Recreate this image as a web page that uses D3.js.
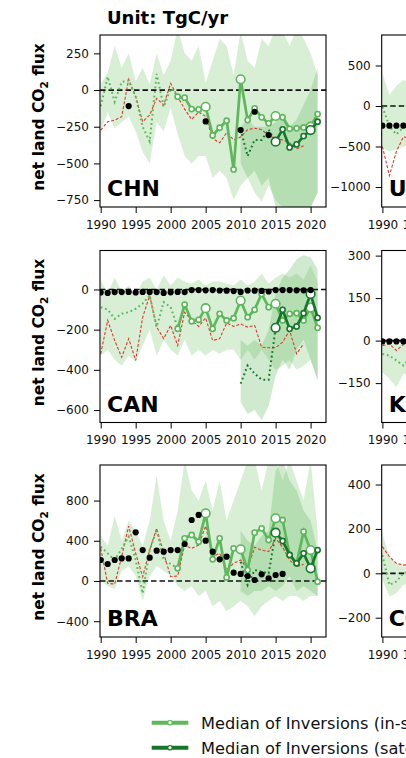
<!DOCTYPE html>
<html>
<head>
<meta charset="utf-8">
<script src="https://cdn.jsdelivr.net/npm/d3@7"></script>
<style>
  body { margin: 0; background: #fff; }
  text { font-family: "DejaVu Sans", sans-serif; }
</style>
</head>
<body>
<svg id="chart" width="406" height="758"></svg>
<script>
// series start years (shared by every country)
const START_RED = 1990, START_DOT_IN = 1990, START_DOT_SAT = 2010;
const START_INSITU = 2001, START_SAT = 2015, START_BAND = 1990, START_SAT_BAND = 2010, START_INV = 1990;

const xTicks = [1990, 1995, 2000, 2005, 2010, 2015, 2020];

// ---- CHN ----
const chnRed = [-273, -216, -205, -182, 73, -45, -216, -170, -57, -102, 45, -45, -130, -200, -150, -180, -330, -360, -290, -340, -320, -270, -260, -270, -310, -330, -340, -360, -400, -380];
const chnDotIn = [-110, 90, -80, 55, 65, -45, -250, -350, 110, -115, 10, -40];
const chnDotSat = [-270, -450, -340, -340, -270, -352];
const chnInsitu = [-45, -52, -130, -132, -114, -309, -257, -209, -541, 73, -205, -125, -186, -227, -177, -186, -264, -261, -255, -250, -164];
const chnSat = [-352, -268, -391, -370, -314, -273, -216];
const chnInv = [null, null, null, null, -109, null, null, null, null, null, null, null, null, null, null, -214, null, null, null, null, -273, null, -148, null, -307];
const chnBandHi = [40, 120, 300, 150, 250, 60, 150, 40, 250, 100, 200, 420, 250, 200, 300, 50, 200, 350, 300, 100, 400, 200, 150, 350, 300, 420, 400, 300, 420, 350, 250, 100];
const chnBandLo = [-280, -150, -260, -220, -180, -280, -420, -500, -220, -280, -120, -300, -450, -500, -450, -450, -600, -550, -600, -750, -650, -600, -700, -760, -650, -750, -800, -800, -800, -800, -800, -700];
const chnSatHi = [-250, -200, -250, -250, -250, -220, -150, -250, -200, -100, 0, 150];
const chnSatLo = [-500, -600, -550, -650, -600, -800, -800, -800, -800, -800, -800, -700];

// ---- CAN ----
const canRed = [-320, -154, -254, -337, -245, -353, -138, -30, -187, -245, -179, -279, -113, -154, -184, -141, -254, -245, -167, -184, -171, -187, -179, -287, -290, -290, -262, -204, -320, -270];
const canDotIn = [-88, -100, -146, -121, -113, -96, -70, -30, -187, -63, -88, -190];
const canDotSat = [-469, -378, -419, -449, -449, -191];
const canInsitu = [-196, -75, -158, -151, -93, -196, -121, -154, -143, -55, -138, -101, -22, -88, -71, -154, -121, -118, -154, -90, -191];
const canSat = [-191, -101, -196, -184, -118, -22, -141];
const canInv = [-15, -17, -13, -13, -12, -15, -12, -12, -13, -17, -14, -12, -13, -3, -3, -4, -3, -5, -6, -8, -12, -5, -6, -7, -10, -3, -3, -3, -4, -4, -3];
const canBandHi = [50, -20, 60, -10, 20, -30, 40, 60, 0, 70, 20, 60, 40, 30, 50, 20, 40, 40, 30, 20, 50, 20, 40, 80, 30, 60, 80, 60, 80, 50, 120, 40];
const canBandLo = [-330, -300, -350, -380, -330, -360, -280, -200, -330, -250, -300, -330, -250, -330, -300, -330, -300, -320, -300, -300, -350, -300, -350, -300, -350, -400, -380, -350, -400, -380, -350, -450];
const canSatHi = [-250, -280, -250, -280, -200, -20, 60, 100, 150, 170, 160, 100];
const canSatLo = [-560, -620, -600, -650, -580, -430, -350, -400, -300, -250, -350, -450];

// ---- BRA ----
const braRed = [325, -23, -30, 242, 547, 275, 43, 308, 524, 275, 43, 50, 358, 325, 358, 547, 242, 275, 109, 176, 209, 126, 335, 308, 292, 425, 335, 209, 143, 166];
const braDotIn = [342, 275, 209, 320, 441, 209, -123, 308, 507, 209, 170, 126];
const braDotSat = [192, -40, 109, 93, 76, 481];
const braInsitu = [126, 425, 458, 391, 673, 216, 425, 36, 325, 315, 109, 481, 524, 408, 624, 607, 259, 176, 491, 308, -7];
const braSat = [481, 398, 259, 176, 275, 126, 308];
const braInv = [209, 169, 209, 225, 225, 484, 308, 232, 302, 292, 308, 308, 368, 607, 657, 401, 292, 216, 242, 83, 70, 50, 10, 66, 27, 60, 70];
const braBandHi = [450, 350, 650, 400, 600, 500, 350, 600, 1050, 600, 400, 700, 1200, 900, 800, 1000, 700, 1000, 600, 800, 1000, 1200, 1200, 900, 1200, 1200, 1000, 1200, 1000, 800, 1200, 500];
const braBandLo = [0, -50, -80, 100, 150, 50, -200, 50, 150, 100, 50, -50, -100, -50, -150, -100, -250, -200, -300, -250, -200, -250, -350, -250, -200, -150, -200, -150, -150, -200, -150, -150];
const braSatHi = [500, 400, 350, 450, 500, 1100, 1200, 1000, 900, 700, 600, 300];
const braSatLo = [-100, -150, -100, -100, -50, -100, -50, 50, -100, -50, -100, -150];

// ---- right column (only the first years are in view) ----
const usaRed = [-500, -860, -560, -380, -400];
const usaDotIn = [-10, -250, -350, -260, -200];
const usaInv = [-243, -243, -243, -243, -243];
const usaBandHi = [404, 136, 250, 320, 300];
const usaBandLo = [-520, -560, -540, -500, -500];

const kazRed = [-18, -12, -35, -14, -20];
const kazDotIn = [-47, -53, -70, -88, -60];
const kazInv = [-3, -3, -3, -3, -3];
const kazBandHi = [-5, -10, -15, -10, -10];
const kazBandLo = [-112, -135, -165, -118, -120];

const codRed = [120, 75, 45, 37, 40];
const codDotIn = [82, -52, -37, 0, 10];
const codBandHi = [180, 75, 45, 30, 40];
const codBandLo = [-30, -105, -90, -52, -50];

const legendLabels = ['Median of Inversions (in-situ)', 'Median of Inversions (satellite)'];

const C_INSITU = '#5cb85a';
const C_SAT = '#16772a';
const C_RED = '#e0392b';

const panels = [
  { code: 'CHN', col: 0, row: 0, yDomain: [-797, 375], yTicks: [250, 0, -250, -500, -750],
    red: chnRed, dotIn: chnDotIn, dotSat: chnDotSat, insitu: chnInsitu, sat: chnSat, inv: chnInv,
    bandHi: chnBandHi, bandLo: chnBandLo, satHi: chnSatHi, satLo: chnSatLo },
  { code: 'CAN', col: 0, row: 1, yDomain: [-662, 194], yTicks: [0, -200, -400, -600],
    red: canRed, dotIn: canDotIn, dotSat: canDotSat, insitu: canInsitu, sat: canSat, inv: canInv,
    bandHi: canBandHi, bandLo: canBandLo, satHi: canSatHi, satLo: canSatLo },
  { code: 'BRA', col: 0, row: 2, yDomain: [-557, 1154], yTicks: [800, 400, 0, -400],
    red: braRed, dotIn: braDotIn, dotSat: braDotSat, insitu: braInsitu, sat: braSat, inv: braInv,
    bandHi: braBandHi, bandLo: braBandLo, satHi: braSatHi, satLo: braSatLo },
  { code: 'USA', col: 1, row: 0, yDomain: [-1247, 877], yTicks: [500, 0, -500, -1000],
    red: usaRed, dotIn: usaDotIn, inv: usaInv, bandHi: usaBandHi, bandLo: usaBandLo },
  { code: 'KAZ', col: 1, row: 1, yDomain: [-289, 318], yTicks: [300, 150, 0, -150],
    red: kazRed, dotIn: kazDotIn, inv: kazInv, bandHi: kazBandHi, bandLo: kazBandLo },
  { code: 'COD', col: 1, row: 2, yDomain: [-287, 488], yTicks: [400, 200, 0, -200],
    red: codRed, dotIn: codDotIn, bandHi: codBandHi, bandLo: codBandLo }
];

const svg = d3.select('#chart');
const W = 226, H = 172;
const colX = [100, 381.7];
const rowY = [35, 250.5, 465];

const x = d3.scaleLinear().domain([1989.9, 2022.2]).range([0, W]);

svg.append('text')
  .attr('x', 107).attr('y', 24)
  .attr('font-size', 18).attr('font-weight', 'bold')
  .text('Unit: TgC/yr');

function series(arr, start) {
  return (arr || []).map((v, i) => ({ yr: start + i, v })).filter(d => d.v != null);
}
function band(lo, hi, start) {
  return (lo || []).map((v, i) => ({ yr: start + i, lo: v, hi: hi[i] }));
}

panels.forEach((p, k) => {
  const g = svg.append('g').attr('transform', `translate(${colX[p.col]},${rowY[p.row]})`);
  const y = d3.scaleLinear().domain(p.yDomain).range([H, 0]);

  g.append('clipPath').attr('id', 'clip' + k)
    .append('rect').attr('width', W).attr('height', H);
  const plot = g.append('g').attr('clip-path', `url(#clip${k})`);

  const area = d3.area().x(d => x(d.yr)).y0(d => y(d.lo)).y1(d => y(d.hi));
  const line = d3.line().x(d => x(d.yr)).y(d => y(d.v));

  plot.append('path')
    .attr('d', area(band(p.bandLo, p.bandHi, START_BAND)))
    .attr('fill', '#a1d99b').attr('fill-opacity', 0.42);
  if (p.satLo) {
    plot.append('path')
      .attr('d', area(band(p.satLo, p.satHi, START_SAT_BAND)))
      .attr('fill', '#6cbf6e').attr('fill-opacity', 0.33);
  }

  // zero line
  plot.append('line')
    .attr('x1', 0).attr('x2', W)
    .attr('y1', y(0)).attr('y2', y(0))
    .attr('stroke', '#111').attr('stroke-width', 1.7)
    .attr('stroke-dasharray', '5.5,3');

  plot.append('path')
    .attr('d', line(series(p.red, START_RED)))
    .attr('fill', 'none').attr('stroke', C_RED)
    .attr('stroke-width', 1.1).attr('stroke-dasharray', '3,1.8');

  plot.append('path')
    .attr('d', line(series(p.dotIn, START_DOT_IN)))
    .attr('fill', 'none').attr('stroke', C_INSITU)
    .attr('stroke-width', 2).attr('stroke-dasharray', '1.8,2.8');

  if (p.dotSat) {
    plot.append('path')
      .attr('d', line(series(p.dotSat, START_DOT_SAT)))
      .attr('fill', 'none').attr('stroke', C_SAT)
      .attr('stroke-width', 2).attr('stroke-dasharray', '1.8,2.8');
  }

  [[p.insitu, START_INSITU, C_INSITU], [p.sat, START_SAT, C_SAT]].forEach(([arr, start, col]) => {
    if (!arr) return;
    const pts = series(arr, start);
    plot.append('path')
      .attr('d', line(pts))
      .attr('fill', 'none').attr('stroke', col).attr('stroke-width', 2.7);
    plot.selectAll(null)
      .data(pts)
      .enter()
      .append('circle')
      .attr('cx', d => x(d.yr))
      .attr('cy', d => y(d.v))
      .attr('r', d => d.yr % 5 === 0 ? 4.3 : 2.6)
      .attr('fill', '#fff')
      .attr('stroke', col)
      .attr('stroke-width', 1.6);
  });

  plot.selectAll(null)
    .data(series(p.inv, START_INV))
    .enter()
    .append('circle')
    .attr('cx', d => x(d.yr))
    .attr('cy', d => y(d.v))
    .attr('r', 3.1)
    .attr('fill', '#000');

  // frame and axes
  g.append('rect')
    .attr('width', W).attr('height', H)
    .attr('fill', 'none').attr('stroke', '#000').attr('stroke-width', 1.1);

  const yAxis = g.append('g')
    .call(d3.axisLeft(y).tickValues(p.yTicks).tickSize(6).tickPadding(5).tickFormat(d3.format('d')));
  const xAxis = g.append('g')
    .attr('transform', `translate(0,${H})`)
    .call(d3.axisBottom(x).tickValues(xTicks).tickSize(6).tickPadding(7).tickFormat(d3.format('d')));
  [yAxis, xAxis].forEach(a => {
    a.select('.domain').remove();
    a.selectAll('.tick line').attr('stroke', '#000').attr('stroke-width', 1);
    a.selectAll('.tick text')
      .attr('font-family', '"DejaVu Sans", sans-serif')
      .attr('font-size', 12).attr('fill', '#111');
  });

  g.append('text')
    .attr('x', 7).attr('y', H - 11)
    .attr('font-size', 22).attr('font-weight', 'bold')
    .text(p.code);

  if (p.col === 0) {
    const lab = svg.append('text')
      .attr('transform', `translate(44,${rowY[p.row] + H / 2 - 4}) rotate(-90)`)
      .attr('text-anchor', 'middle')
      .attr('font-size', 15.5).attr('font-weight', 'bold');
    lab.append('tspan').text('net land CO');
    lab.append('tspan').attr('font-size', 10.5).attr('dy', 3.5).text('2');
    lab.append('tspan').attr('dy', -3.5).text(' flux');
  }
});

// legend
const legend = svg.append('g');
legendLabels.forEach((label, i) => {
  const col = i === 0 ? C_INSITU : C_SAT;
  const ly = 722.7 + i * 25;
  legend.append('line')
    .attr('x1', 151.7).attr('x2', 188.3).attr('y1', ly).attr('y2', ly)
    .attr('stroke', col).attr('stroke-width', 4);
  legend.append('circle')
    .attr('cx', 170).attr('cy', ly).attr('r', 2.2)
    .attr('fill', '#fff').attr('stroke', col).attr('stroke-width', 1.2);
  legend.append('text')
    .attr('x', 201).attr('y', ly + 6)
    .attr('font-size', 16.2).attr('fill', '#111')
    .text(label);
});
</script>
</body>
</html>
